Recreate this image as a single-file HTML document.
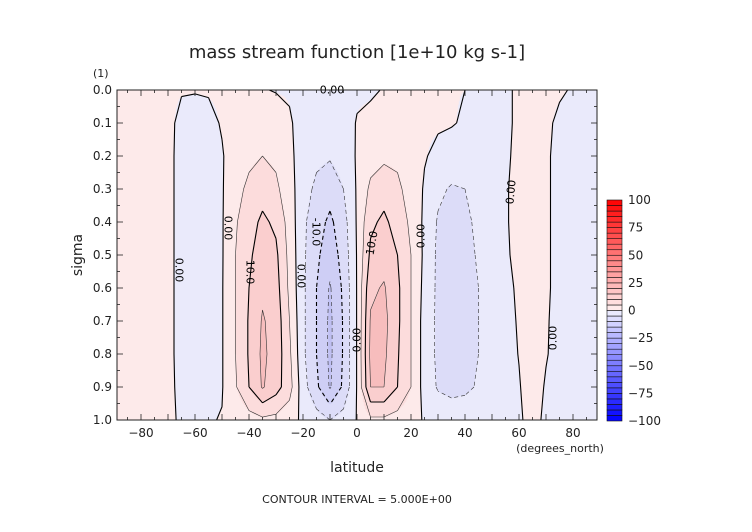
<!DOCTYPE html>
<html><head><meta charset="utf-8"><style>
body{margin:0;background:#fff;}
#wrap{position:relative;width:752px;height:532px;overflow:hidden;font-family:"DejaVu Sans","Liberation Sans",sans-serif;}
canvas{position:absolute;left:0;top:0;}
svg{position:absolute;left:0;top:0;}
</style></head><body>
<div id="wrap">
<canvas id="cv" width="752" height="532"></canvas>
<svg id="sv" width="752" height="532"></svg>
</div>
<script>
const lats=[-90,-85,-80,-75,-70,-65,-60,-55,-50,-45,-40,-35,-30,-25,-20,-15,-10,-5,0,5,10,15,20,25,30,35,40,45,50,55,60,65,70,75,80,85,90];
const sigmas=[0,0.1,0.2,0.3,0.4,0.5,0.6,0.7,0.8,0.9,1.0];
const psi=[
[0.3,0.8,1,1,1,1,1,1,1,0.8,0.3],
[0.3,0.8,1,1,1,1,1,1,1,0.8,0.3],
[0.3,1,1,1,1,1,1,1,1,1,0.3],
[0.3,1,1,1,1,1,1,1,1,1,0.3],
[0.3,0.8,0.8,0.8,0.8,0.8,0.8,0.8,0.8,0.8,0.3],
[0.2,-0.8,-1,-1,-1,-1,-1,-1,-1,-0.8,-0.2],
[0.2,-1.5,-2,-2,-2,-2,-2,-2,-2,-1.5,-0.5],
[0.3,-1,-1.5,-1.5,-1.5,-1.5,-1.5,-1.5,-1.5,-1,-0.3],
[0.5,0.3,-0.3,-0.4,-0.4,-0.4,-0.3,-0.3,-0.3,-0.3,0.2],
[0.5,1,2,3.5,4.5,5,5,5,5,4.5,1.5],
[0.3,2,4,6,8,9,10,10.5,10.5,10,3],
[0.2,2.5,5,8,11,13,14,15.5,16,15.5,4],
[-0.2,2,4,6,9,11,12,13,13,12,3.5],
[-0.3,0.3,1,2,3,3.5,4,5,6,7,2],
[-1,-1,-2,-3,-4,-4,-4,-4,-4,-3,-1],
[-1,-2,-4,-6,-8,-9,-10,-10,-10,-9,-3],
[-1,-2,-4.5,-8,-11,-13,-15.5,-16,-16,-15.5,-5],
[-1,-1.5,-3,-5,-7,-8,-9,-9.5,-9.5,-9,-3],
[-0.5,0.2,0.5,0.5,0.5,0.3,0.3,0.3,0.3,0.3,0.2],
[-0.5,1,3,6,9,11,14,15.5,16,15,4],
[0.2,2,4,8,11,13,15.5,16.5,16,15,4],
[0.5,2,4,6,8,10,11,11,10.5,10,3],
[0.3,1,2,3,4,5,5,5,5,5,2],
[0.2,0.5,0.3,-0.5,-1,-1,-1.5,-2,-2,-2,-0.5],
[0.3,0.5,-1,-4,-5.5,-6,-6,-6,-6,-5.5,-1.5],
[0.2,0.3,-2,-5.5,-6.5,-7,-7,-7,-7,-6.5,-2],
[0,-0.5,-2,-5,-6,-6.5,-6.5,-6.5,-6.5,-6,-2],
[-0.3,-1,-2,-3,-4,-4.5,-5,-5,-5,-4.5,-1.5],
[-0.5,-1,-1.5,-2,-2,-2,-2,-2,-2,-2,-0.5],
[-0.3,-0.5,-0.5,-0.3,-0.3,-0.5,-0.8,-1,-1,-1,-0.3],
[0.3,0.5,0.8,1,1,1,0.5,0.3,0.1,-0.2,-0.2],
[0.5,1,1.5,1.5,1.5,1.5,1.5,1.5,1.5,1.5,0.5],
[0.5,0.5,0.5,0.5,0.5,0.5,0.5,0.3,0.2,-0.3,-0.3],
[0.3,-0.5,-1,-1,-1,-1,-1,-1,-1,-1,-0.3],
[-0.2,-1,-1,-1,-1,-1,-1,-1,-1,-1,-0.3],
[-0.3,-1,-1,-1,-1,-1,-1,-1,-1,-1,-0.3],
[-0.2,-0.5,-0.6,-0.6,-0.6,-0.6,-0.6,-0.6,-0.6,-0.5,-0.2]];
const levels=[-15,-10,-5,0,5,10,15];
const xTicks=[-80,-60,-40,-20,0,20,40,60,80];
const yTicks=[0,0.1,0.2,0.3,0.4,0.5,0.6,0.7,0.8,0.9,1.0];
const cbTicks=[100,75,50,25,0,-25,-50,-75,-100];

const L=117,R=597,T=90,B=420,X0=357,PPD=2.7;
const xs=v=>X0+v*PPD, ys=s=>T+s*(B-T);
const NS='http://www.w3.org/2000/svg';
const sv=document.getElementById('sv');
function el(t,a,p){const e=document.createElementNS(NS,t);for(const k in a)e.setAttribute(k,a[k]);(p||sv).appendChild(e);return e;}
function val(lat,s){
  let i=(lat-lats[0])/5; i=Math.max(0,Math.min(lats.length-1.0001,i));
  let j=s/0.1; j=Math.max(0,Math.min(sigmas.length-1.0001,j));
  const i0=Math.floor(i),j0=Math.floor(j),fi=i-i0,fj=j-j0;
  return psi[i0][j0]*(1-fi)*(1-fj)+psi[i0+1][j0]*fi*(1-fj)+psi[i0][j0+1]*(1-fi)*fj+psi[i0+1][j0+1]*fi*fj;
}
const pos=['#fdeaea','#fcdcdc','#facece','#f7bdbd','#f4aaaa'];
const neg=['#eaeafb','#dcdcf8','#cecef5','#c0c0f2','#b0b0ee'];
function col(v){const k=Math.min(4,Math.floor(Math.abs(v)/5));return v>=0?pos[k]:neg[k];}
const cv=document.getElementById('cv'),cx=cv.getContext('2d');
for(let px=L;px<R;px++){for(let py=T;py<B;py++){
  const v=val((px+0.5-X0)/PPD,(py+0.5-T)/(B-T));cx.fillStyle=col(v);cx.fillRect(px,py,1,1);}}
// contours (marching squares)
const g=el('g',{});
levels.forEach(lev=>{
  const lv=lev+1e-4;
  let d='';
  for(let i=0;i<lats.length-1;i++){
    for(let j=0;j<sigmas.length-1;j++){
      const c=[[lats[i],sigmas[j],psi[i][j]],[lats[i+1],sigmas[j],psi[i+1][j]],[lats[i+1],sigmas[j+1],psi[i+1][j+1]],[lats[i],sigmas[j+1],psi[i][j+1]]];
      const pts=[];
      for(let k=0;k<4;k++){const a=c[k],b=c[(k+1)%4];
        if((a[2]-lv)*(b[2]-lv)<0){const t=(lv-a[2])/(b[2]-a[2]);pts.push([a[0]+t*(b[0]-a[0]),a[1]+t*(b[1]-a[1])]);}}
      for(let k=0;k+1<pts.length;k+=2){
        d+='M'+xs(pts[k][0]).toFixed(1)+' '+ys(pts[k][1]).toFixed(1)+'L'+xs(pts[k+1][0]).toFixed(1)+' '+ys(pts[k+1][1]).toFixed(1);}
    }
  }
  const heavy=(lev===0||Math.abs(lev)===10);
  const p=el('path',{d:d,fill:'none',stroke:heavy?'#000':'#333','stroke-width':heavy?1.1:0.6,'stroke-dasharray':lev<0?'4 3':'none'},g);
  
  
});
// contour labels
const labs=[[179,270,90,'0.00'],[228,228,90,'0.00'],[250,272,90,'10.0'],[301,276,90,'0.00'],[316,232,90,'-10.0'],[357,340,-90,'0.00'],[372,243,-80,'10.0'],[421,236,-90,'0.00'],[511,192,-85,'0.00'],[553,338,-90,'0.00'],[332,90,0,'0.00']];
labs.forEach(a=>{const t=el('text',{x:a[0],y:a[1],'font-size':11,'text-anchor':'middle','dominant-baseline':'central',transform:'rotate('+a[2]+' '+a[0]+' '+a[1]+')'});t.textContent=a[3];
  
  });
// frame
el('rect',{x:L,y:T,width:R-L,height:B-T,fill:'none',stroke:'#222','stroke-width':1,});
const ax=el('g',{stroke:'#222','stroke-width':0.8,});
for(let v=-85;v<=85;v+=5){const len=v%10===0?6:3;
  el('line',{x1:xs(v),x2:xs(v),y1:B,y2:B-len},ax);el('line',{x1:xs(v),x2:xs(v),y1:T,y2:T+len},ax);}
for(let n=0;n<=20;n++){const s=n*0.05,len=n%2===0?6:3;
  el('line',{x1:L,x2:L+len,y1:ys(s),y2:ys(s)},ax);el('line',{x1:R,x2:R-len,y1:ys(s),y2:ys(s)},ax);}
xTicks.forEach(v=>{const t=el('text',{x:xs(v),y:437,'font-size':12,'text-anchor':'middle',fill:'#222'});t.textContent=v<0?'−'+(-v):v;
  
  });
yTicks.forEach(v=>{const t=el('text',{x:112,y:ys(v)+4,'font-size':12,'text-anchor':'end',fill:'#222'});t.textContent=v.toFixed(1);
  
  });
// colorbar
const cb=el('g',{});
const CT=200,CB=421,CL=607,CW=15;const cy=v=>CT+(100-v)/200*(CB-CT);
for(let v=-100;v<100;v+=5){const m=v+2.5,a=Math.abs(m)/100;
  const c=m>=0?`rgb(255,${Math.round(240-240*a)},${Math.round(240-240*a)})`:`rgb(${Math.round(240-240*a)},${Math.round(240-240*a)},255)`;
  el('rect',{x:CL,y:cy(v+5),width:CW,height:cy(v)-cy(v+5),fill:c,stroke:'#111','stroke-width':0.6},cb);}
cbTicks.forEach(v=>{const t=el('text',{x:628,y:cy(v)+4,'font-size':12,fill:'#222'});t.textContent=v<0?'−'+(-v):v;
  
  });
</script>
<svg width="752" height="532" style="position:absolute;left:0;top:0;pointer-events:none">
<text x="357" y="58" font-size="18" text-anchor="middle" fill="#222" font-family="DejaVu Sans,sans-serif">mass stream function [1e+10 kg s-1]</text>
<text x="93" y="77" font-size="11" fill="#222" font-family="DejaVu Sans,sans-serif">(1)</text>
<text x="82" y="255" font-size="14" text-anchor="middle" fill="#222" transform="rotate(-90 82 255)" font-family="DejaVu Sans,sans-serif">sigma</text>
<text x="357" y="472" font-size="14" text-anchor="middle" fill="#222" font-family="DejaVu Sans,sans-serif">latitude</text>
<text x="560" y="452" font-size="11" text-anchor="middle" fill="#222" font-family="DejaVu Sans,sans-serif">(degrees_north)</text>
<text x="357" y="503" font-size="11" text-anchor="middle" fill="#222" font-family="DejaVu Sans,sans-serif">CONTOUR INTERVAL = 5.000E+00</text>
</svg>
</body></html>
